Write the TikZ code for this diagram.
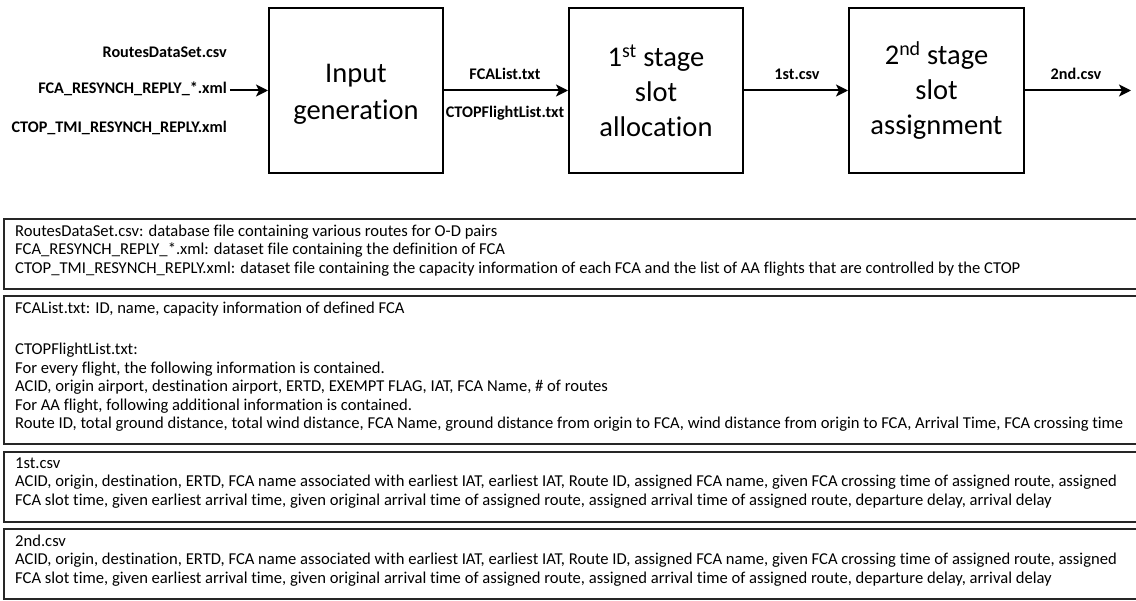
\documentclass[tikz,border=0pt]{standalone}
\usepackage{fontspec}
\setmainfont{Carlito}[Ligatures=NoCommon]
\usetikzlibrary{arrows.meta}
\begin{document}
\begin{tikzpicture}[x=1pt,y=-1pt,
  stage/.style={draw, line width=2pt, minimum width=174pt, minimum height=165pt, inner sep=0pt},
  stagetext/.style={align=center, inner sep=0pt, font=\fontsize{28.5}{35}\selectfont},
  flow/.style={line width=2pt, -{Stealth[length=12pt,width=12pt,inset=3pt]}},
  lbl/.style={inner sep=0pt, font=\fontsize{16.2}{19}\selectfont\bfseries},
  note/.style={draw=black!85, line width=1.6pt},
  notetext/.style={inner sep=0pt, align=left, anchor=north west,
    font=\fontsize{16.6}{18.5}\selectfont}]
\useasboundingbox (0,0) rectangle (1136,601);

% processing stages
\node[stage] (gen)    at (356,90.5)   {};
\node[stage] (alloc)  at (656,90.5)   {};
\node[stage, minimum width=175pt] (assign) at (936.5,90.5) {};
\node[stagetext, font=\fontsize{28.5}{37}\selectfont] (gentext) at (356,94) {Input\\generation};
\node[stagetext] (alloctext)  at (656,90.5)   {1\textsuperscript{st} stage\\slot\\allocation};
\node[stagetext] (assigntext) at (936.5,90.5) {2\textsuperscript{nd} stage\\slot\\assignment};

% data flow
\coordinate (src) at (230,90.5);
\coordinate (sink) at (1131,90.5);
\draw[flow] (src) -- (gen.west);
\draw[flow] (gen.east) -- (alloc.west);
\draw[flow] (alloc.east) -- (assign.west);
\draw[flow] (assign.east) -- (sink);

% file labels
\node[lbl, anchor=east] (routes) at (227,52)  {RoutesDataSet.csv};
\node[lbl, anchor=east] (fca)    at (227,89)  {FCA\_RESYNCH\_REPLY\_*.xml};
\node[lbl, anchor=east] (ctop)   at (227,128) {CTOP\_TMI\_RESYNCH\_REPLY.xml};
\node[lbl] (fcalist)  at (505,74)  {FCAList.txt};
\node[lbl] (ctoplist) at (505,113) {CTOPFlightList.txt};
\node[lbl] (first)    at (797,74)  {1st.csv};
\node[lbl] (second)   at (1076,74) {2nd.csv};

% file descriptions
\draw[note] (4,219) rectangle (1142,289);
\node[notetext] (descA) at (15,224.5) {RoutesDataSet.csv: database file containing various routes for O-D pairs\\
FCA\_RESYNCH\_REPLY\_*.xml: dataset file containing the definition of FCA\\
CTOP\_TMI\_RESYNCH\_REPLY.xml: dataset file containing the capacity information of each FCA and the list of AA flights that are controlled by the CTOP};

\draw[note] (4,296) rectangle (1142,444);
\node[notetext] (descB) at (15,301.5) {FCAList.txt: ID, name, capacity information of defined FCA\\[23pt]
CTOPFlightList.txt:\\
For every flight, the following information is contained.\\
ACID, origin airport, destination airport, ERTD, EXEMPT FLAG, IAT, FCA Name, \# of routes\\
For AA flight, following additional information is contained.\\
Route ID, total ground distance, total wind distance, FCA Name, ground distance from origin to FCA, wind distance from origin to FCA, Arrival Time, FCA crossing time};

\draw[note] (4,452) rectangle (1142,522);
\node[notetext] (descC) at (15,457.5) {1st.csv\\
ACID, origin, destination, ERTD, FCA name associated with earliest IAT, earliest IAT, Route ID, assigned FCA name, given FCA crossing time of assigned route, assigned\\
FCA slot time, given earliest arrival time, given original arrival time of assigned route, assigned arrival time of assigned route, departure delay, arrival delay};

\draw[note] (4,529) rectangle (1142,599);
\node[notetext] (descD) at (15,534.5) {2nd.csv\\
ACID, origin, destination, ERTD, FCA name associated with earliest IAT, earliest IAT, Route ID, assigned FCA name, given FCA crossing time of assigned route, assigned\\
FCA slot time, given earliest arrival time, given original arrival time of assigned route, assigned arrival time of assigned route, departure delay, arrival delay};
\end{tikzpicture}
\end{document}
